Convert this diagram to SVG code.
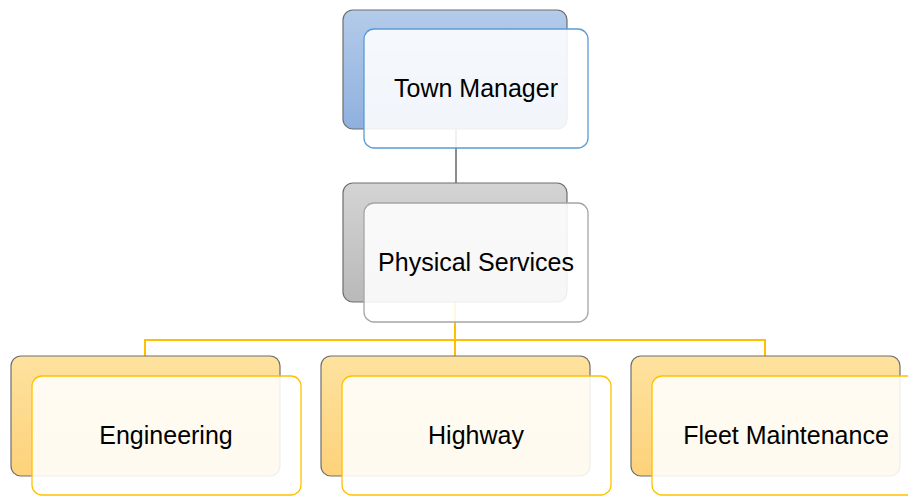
<svg xmlns="http://www.w3.org/2000/svg" width="908" height="496" viewBox="0 0 908 496">
<defs>
<linearGradient id="gBlue" x1="0" y1="0" x2="0" y2="1"><stop offset="0" stop-color="#b4cbea"/><stop offset="1" stop-color="#8fb0de"/></linearGradient>
<linearGradient id="gGrey" x1="0" y1="0" x2="0" y2="1"><stop offset="0" stop-color="#d4d4d4"/><stop offset="1" stop-color="#b9b9b9"/></linearGradient>
<linearGradient id="gOrange" x1="0" y1="0" x2="0" y2="1"><stop offset="0" stop-color="#fee29f"/><stop offset="1" stop-color="#fdd27a"/></linearGradient>
<style>
.back{stroke:#6e6e6e;stroke-width:1.2}
.front{fill:#ffffff;fill-opacity:0.88;stroke-width:1.3}
.lbl{font-family:"Liberation Sans",Arial,sans-serif;font-size:25px;fill:#000;text-anchor:middle}
.conG{stroke:#8c8c8c;stroke-width:2;fill:none}
.conY{stroke:#ffc000;stroke-width:2;fill:none}
</style>
</defs>
<rect width="908" height="496" fill="#ffffff"/>
<g id="connectors">
<line class="conG" x1="456" y1="129" x2="456" y2="183"/>
<path class="conY" d="M455,302 V340 M145,356 V340 H765 V356 M455,340 V356"/>
</g>
<g id="town-manager">
<rect class="back" x="343" y="10" width="224" height="119" rx="10" fill="url(#gBlue)"/>
<rect class="front" x="364" y="29" width="224" height="119" rx="10" stroke="#5b9bd5"/>
<text class="lbl" x="476" y="97">Town Manager</text>
</g>
<g id="physical-services">
<rect class="back" x="343" y="183" width="224" height="119" rx="10" fill="url(#gGrey)"/>
<rect class="front" x="364" y="203" width="224" height="119" rx="10" stroke="#a5a5a5"/>
<text class="lbl" x="476" y="271">Physical Services</text>
</g>
<g id="engineering">
<rect class="back" x="11" y="356" width="269" height="120" rx="10" fill="url(#gOrange)"/>
<rect class="front" x="32" y="376" width="269" height="119" rx="10" stroke="#ffc000"/>
<text class="lbl" x="166" y="444">Engineering</text>
</g>
<g id="highway">
<rect class="back" x="321" y="356" width="269" height="120" rx="10" fill="url(#gOrange)"/>
<rect class="front" x="342" y="376" width="269" height="119" rx="10" stroke="#ffc000"/>
<text class="lbl" x="476" y="444">Highway</text>
</g>
<g id="fleet-maintenance">
<rect class="back" x="631" y="356" width="269" height="120" rx="10" fill="url(#gOrange)"/>
<rect class="front" x="652" y="376" width="269" height="119" rx="10" stroke="#ffc000"/>
<text class="lbl" x="786" y="444">Fleet Maintenance</text>
</g>
</svg>
